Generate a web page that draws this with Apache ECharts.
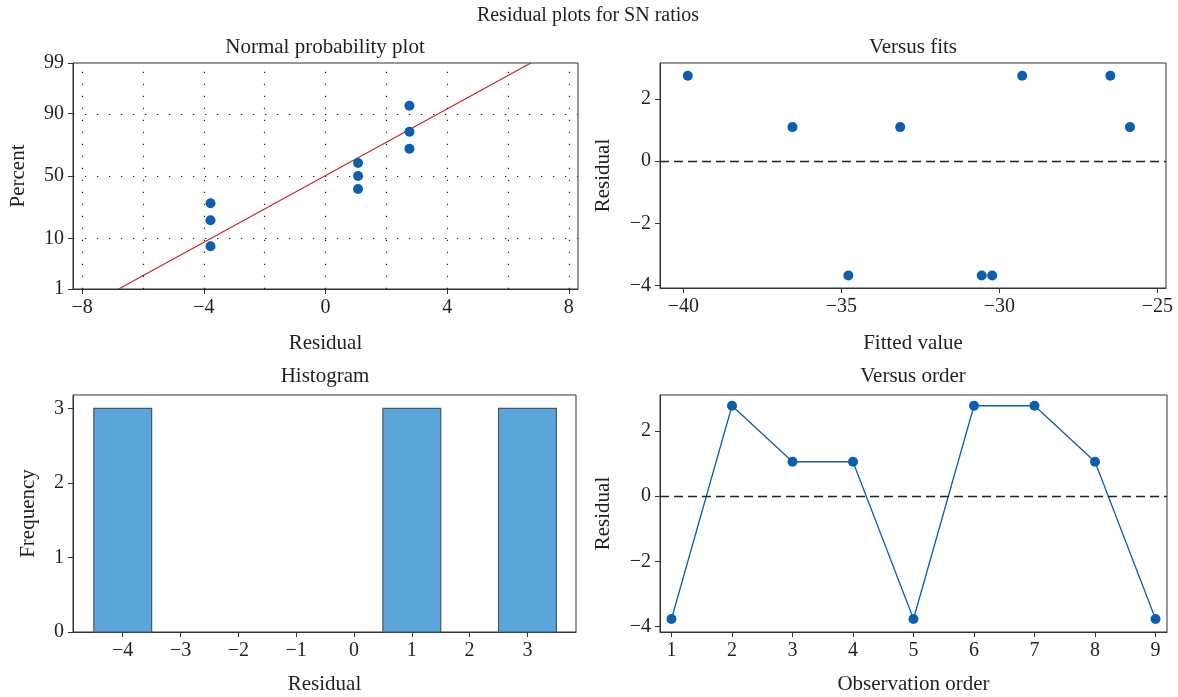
<!DOCTYPE html>
<html>
<head>
<meta charset="utf-8">
<title>Residual plots for SN ratios</title>
<script src="https://cdn.jsdelivr.net/npm/echarts@6/dist/echarts.min.js"></script>
<style>
html, body { margin: 0; padding: 0; background: #fff; }
#main { width: 1178px; height: 697px; }
</style>
</head>
<body>
<div id="main"></div>
<script>
// Normal probability plot
var probResidual = [-3.78, -3.78, -3.78, 1.07, 1.07, 1.07, 2.76, 2.76, 2.76];
var probPercent = [7.4, 18.1, 28.7, 39.4, 50, 60.6, 71.3, 81.9, 92.6];
var fitLineResidual = [-6.80, 6.75];
var fitLinePercent = [1, 99];
var percentTicks = [1, 10, 50, 90, 99];
var percentGrid = [10, 50, 90];
var residualTicks = [-8, -4, 0, 4, 8];
var residualGrid = [-8, -6, -4, -2, 0, 2, 4, 6, 8];

// Versus fits
var fittedValue = [-39.86, -36.55, -34.78, -33.14, -30.56, -30.23, -29.28, -26.49, -25.87];
var fitsResidual = [2.74, 1.09, -3.68, 1.09, -3.68, -3.68, 2.74, 2.74, 1.09];
var fittedTicks = [-40, -35, -30, -25];
var residualTicksSmall = [-4, -2, 0, 2];

// Histogram
var binCenter = [-4, -3, -2, -1, 0, 1, 2, 3];
var binCount = [3, 0, 0, 0, 0, 3, 0, 3];
var binWidth = 1;
var freqTicks = [0, 1, 2, 3];

// Versus order
var observation = [1, 2, 3, 4, 5, 6, 7, 8, 9];
var orderResidual = [-3.77, 2.78, 1.06, 1.06, -3.77, 2.78, 2.78, 1.06, -3.77];

// inverse normal cdf (Acklam), used for the probability axis
function probit(p) {
    var a = [-3.969683028665376e+01, 2.209460984245205e+02, -2.759285104469687e+02, 1.383577518672690e+02, -3.066479806614716e+01, 2.506628277459239e+00];
    var b = [-5.447609879822406e+01, 1.615858368580409e+02, -1.556989798598866e+02, 6.680131188771972e+01, -1.328068155288572e+01];
    var c = [-7.784894002430293e-03, -3.223964580411365e-01, -2.400758277161838e+00, -2.549732539343734e+00, 4.374664141464968e+00, 2.938163982698783e+00];
    var d = [7.784695709041462e-03, 3.224671290700398e-01, 2.445134137142996e+00, 3.754408661907416e+00];
    var pl = 0.02425, q, r;
    if (p < pl) {
        q = Math.sqrt(-2 * Math.log(p));
        return (((((c[0] * q + c[1]) * q + c[2]) * q + c[3]) * q + c[4]) * q + c[5]) / ((((d[0] * q + d[1]) * q + d[2]) * q + d[3]) * q + 1);
    }
    if (p > 1 - pl) {
        q = Math.sqrt(-2 * Math.log(1 - p));
        return -(((((c[0] * q + c[1]) * q + c[2]) * q + c[3]) * q + c[4]) * q + c[5]) / ((((d[0] * q + d[1]) * q + d[2]) * q + d[3]) * q + 1);
    }
    q = p - 0.5;
    r = q * q;
    return (((((a[0] * r + a[1]) * r + a[2]) * r + a[3]) * r + a[4]) * r + a[5]) * q / (((((b[0] * r + b[1]) * r + b[2]) * r + b[3]) * r + b[4]) * r + 1);
}
function z(pct) { return probit(pct / 100); }

function fmt(v) {
    return v < 0 ? '\u2212' + (-v) : String(v);
}

var FONT = 'Liberation Serif';
var TXT = '#231f20';
var AXIS = '#333333';
var BLUE = '#0b5fae';

var chartDom = document.getElementById('main');
var myChart = echarts.init(chartDom);
var option;

function axis(gridIndex, min, max, ticks, name, gap, extra) {
    var a = {
        gridIndex: gridIndex,
        type: 'value',
        min: min,
        max: max,
        name: name,
        nameLocation: 'middle',
        nameGap: gap,
        nameTextStyle: { fontFamily: FONT, fontSize: 21, color: TXT },
        axisLine: { onZero: false, lineStyle: { color: AXIS, width: 1 } },
        axisTick: { customValues: ticks, length: 5, lineStyle: { color: AXIS } },
        axisLabel: {
            customValues: ticks,
            formatter: fmt,
            fontFamily: FONT,
            fontSize: 20,
            color: TXT,
            margin: 9
        },
        splitLine: { show: false }
    };
    for (var k in extra) a[k] = extra[k];
    return a;
}

function titleAt(text, x, y, size) {
    return {
        text: text,
        left: x,
        top: y,
        padding: 0,
        textAlign: 'center',
        textStyle: { fontFamily: FONT, fontSize: size, fontWeight: 'normal', color: TXT }
    };
}

var zeroLine = {
    silent: true,
    symbol: ['none', 'none'],
    label: { show: false },
    lineStyle: { type: [9, 5], color: '#222', width: 1.3 },
    data: [{ yAxis: 0 }]
};

var gridBox = { show: true, borderColor: AXIS, borderWidth: 1, backgroundColor: 'transparent' };

option = {
    animation: false,
    title: [
        titleAt('Residual plots for SN ratios', 588, 6, 20),
        titleAt('Normal probability plot', 325, 37, 21),
        titleAt('Versus fits', 913, 37, 21),
        titleAt('Histogram', 325, 366, 21),
        titleAt('Versus order', 913, 366, 21)
    ],
    grid: [
        Object.assign({ left: 73, top: 63, width: 505, height: 226 }, gridBox),
        Object.assign({ left: 660, top: 63, width: 506, height: 225 }, gridBox),
        Object.assign({ left: 73, top: 395, width: 503, height: 237 }, gridBox),
        Object.assign({ left: 660, top: 395, width: 507, height: 237 }, gridBox)
    ],
    xAxis: [
        axis(0, -8.3, 8.3, residualTicks, 'Residual', 44),
        axis(1, -40.74, -24.73, fittedTicks, 'Fitted value', 45),
        axis(2, -4.86, 3.84, binCenter, 'Residual', 42),
        axis(3, 0.81, 9.19, observation, 'Observation order', 42)
    ],
    yAxis: [
        axis(0, z(1), z(99), percentTicks.map(z), 'Percent', 44, {
            axisLabel: {
                customValues: percentTicks.map(z),
                formatter: function (v) {
                    for (var i = 0; i < percentTicks.length; i++) {
                        if (Math.abs(z(percentTicks[i]) - v) < 1e-6) return String(percentTicks[i]);
                    }
                    return '';
                },
                fontFamily: FONT, fontSize: 20, color: TXT, margin: 9
            }
        }),
        axis(1, -4.08, 3.15, residualTicksSmall, 'Residual', 46),
        axis(2, 0, 3.18, freqTicks, 'Frequency', 34),
        axis(3, -4.17, 3.11, residualTicksSmall, 'Residual', 46)
    ],
    series: [
        {
            name: 'Fit',
            type: 'line',
            xAxisIndex: 0,
            yAxisIndex: 0,
            symbol: 'none',
            lineStyle: { color: '#c1272d', width: 1.2 },
            data: fitLineResidual.map(function (x, i) { return [x, z(fitLinePercent[i])]; }),
            markLine: {
                silent: true,
                symbol: ['none', 'none'],
                label: { show: false },
                lineStyle: { type: [1.3, 10.7], color: '#222', width: 1.2 },
                data: residualGrid.map(function (v) { return { xAxis: v }; })
                    .concat(percentGrid.map(function (p) { return { yAxis: z(p) }; }))
            },
            z: 3
        },
        {
            name: 'Percent',
            type: 'scatter',
            xAxisIndex: 0,
            yAxisIndex: 0,
            symbolSize: 10,
            itemStyle: { color: BLUE, opacity: 1 },
            data: probResidual.map(function (x, i) { return [x, z(probPercent[i])]; }),
            z: 4
        },
        {
            name: 'Versus fits',
            type: 'scatter',
            xAxisIndex: 1,
            yAxisIndex: 1,
            symbolSize: 10,
            itemStyle: { color: BLUE, opacity: 1 },
            data: fittedValue.map(function (x, i) { return [x, fitsResidual[i]]; }),
            markLine: zeroLine,
            z: 4
        },
        {
            name: 'Histogram',
            type: 'custom',
            xAxisIndex: 2,
            yAxisIndex: 2,
            renderItem: function (params, api) {
                var c = api.value(0), n = api.value(1);
                var p0 = api.coord([c - binWidth / 2, n]);
                var p1 = api.coord([c + binWidth / 2, 0]);
                return {
                    type: 'rect',
                    shape: { x: p0[0], y: p0[1], width: p1[0] - p0[0], height: p1[1] - p0[1] },
                    style: { fill: '#5aa5da', stroke: '#4e5863', lineWidth: 1.2 }
                };
            },
            data: binCenter.map(function (c, i) { return [c, binCount[i]]; })
                .filter(function (d) { return d[1] > 0; })
        },
        {
            name: 'Versus order',
            type: 'line',
            xAxisIndex: 3,
            yAxisIndex: 3,
            symbol: 'circle',
            symbolSize: 10,
            lineStyle: { color: BLUE, width: 1.3 },
            itemStyle: { color: BLUE },
            data: observation.map(function (x, i) { return [x, orderResidual[i]]; }),
            markLine: zeroLine,
            z: 4
        }
    ]
};

option && myChart.setOption(option);
</script>
</body>
</html>
